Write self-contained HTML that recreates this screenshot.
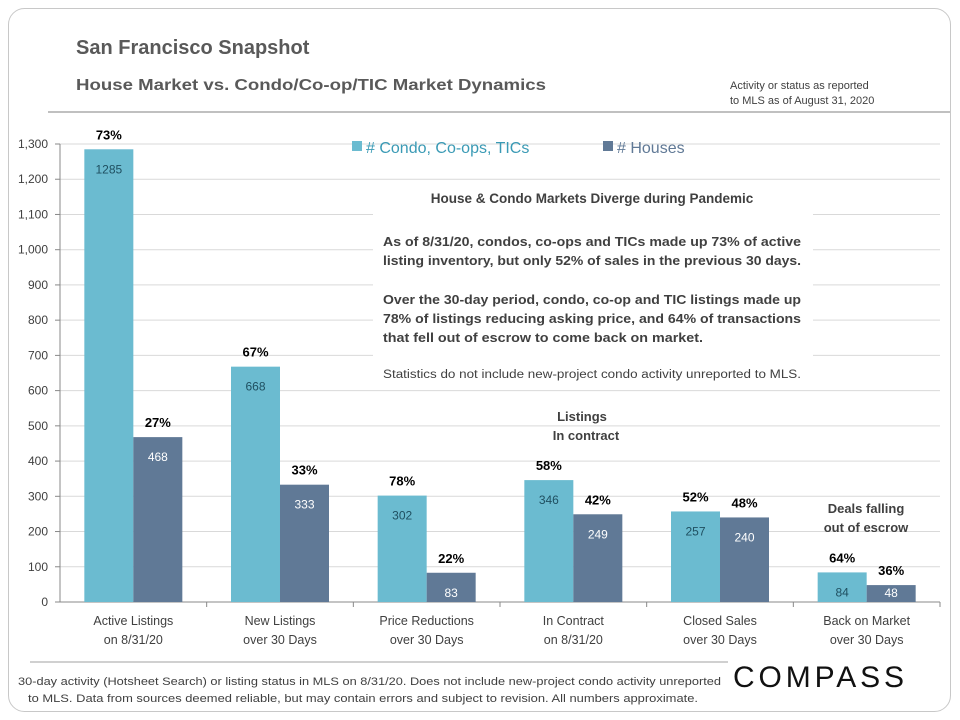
<!DOCTYPE html>
<html><head><meta charset="utf-8">
<style>
body{margin:0;width:960px;height:720px;background:#fff;font-family:"Liberation Sans",sans-serif;overflow:hidden}
svg{position:absolute;left:0;top:0}
</style></head>
<body>
<svg width="960" height="720" xmlns="http://www.w3.org/2000/svg" id="chart">
<rect x="8.5" y="8.5" width="942" height="703" rx="16" fill="#fff" stroke="#c8c8c8"/>
<text x="76" y="54" font-size="20" font-weight="bold" fill="#595959">San Francisco Snapshot</text>
<text x="76" y="90" font-size="16" font-weight="bold" fill="#595959" textLength="470" lengthAdjust="spacingAndGlyphs">House Market vs. Condo/Co-op/TIC  Market Dynamics</text>
<text x="730" y="89" font-size="11" fill="#404040">Activity or status as reported</text>
<text x="730" y="104" font-size="11" fill="#404040">to MLS as of August 31, 2020</text>
<line x1="48" y1="112" x2="950" y2="112" stroke="#808080"/>
<g id="grid"></g>
<g id="bars"></g>
<g id="labels"></g>
<rect x="373" y="180" width="440" height="208" fill="#fff"/>
<text x="592" y="203" font-size="13.5" font-weight="bold" fill="#404040" text-anchor="middle">House &amp; Condo Markets Diverge during Pandemic</text>
<g font-size="13" font-weight="bold" fill="#404040">
<text x="383" y="246" textLength="418" lengthAdjust="spacingAndGlyphs">As of 8/31/20, condos, co-ops and TICs made up 73% of active</text>
<text x="383" y="265" textLength="418" lengthAdjust="spacingAndGlyphs">listing inventory, but only 52% of sales in the previous 30 days.</text>
<text x="383" y="304" textLength="418" lengthAdjust="spacingAndGlyphs">Over the 30-day period, condo, co-op and TIC listings made up</text>
<text x="383" y="323" textLength="418" lengthAdjust="spacingAndGlyphs">78% of listings reducing asking price, and 64% of transactions</text>
<text x="383" y="342" textLength="320" lengthAdjust="spacingAndGlyphs">that fell out of escrow to come back on market.</text>
</g>
<text x="383" y="378" font-size="11.5" fill="#404040" textLength="418" lengthAdjust="spacingAndGlyphs">Statistics do not include new-project condo activity unreported to MLS.</text>
<rect x="352" y="141" width="10" height="10" fill="#6bbbd0"/>
<text x="366" y="153" font-size="16" fill="#3a9ab5"># Condo, Co-ops, TICs</text>
<rect x="603" y="141" width="10" height="10" fill="#607996"/>
<text x="617" y="153" font-size="16" fill="#607996"># Houses</text>
<g font-size="13" font-weight="bold" fill="#404040" text-anchor="middle">
<text x="582" y="421">Listings</text>
<text x="586" y="440">In contract</text>
<text x="866" y="513">Deals falling</text>
<text x="866" y="532">out of escrow</text>
</g>
<line x1="30" y1="662" x2="728" y2="662" stroke="#a0a0a0"/>
<text x="18" y="685" font-size="11" fill="#404040" textLength="703" lengthAdjust="spacingAndGlyphs">30-day activity (Hotsheet Search) or listing status in MLS on 8/31/20. Does not include new-project condo activity unreported</text>
<text x="28" y="702" font-size="11" fill="#404040" textLength="670" lengthAdjust="spacingAndGlyphs">to MLS. Data from sources deemed reliable, but may contain errors and subject to revision. All numbers approximate.</text>
<text x="733" y="687" font-size="30" fill="#111" letter-spacing="4" textLength="175">COMPASS</text>
</svg>
<script>
const categories=[["Active Listings","on 8/31/20"],["New Listings","over 30 Days"],["Price Reductions","over 30 Days"],["In Contract","on 8/31/20"],["Closed Sales","over 30 Days"],["Back on Market","over 30 Days"]];
const condoValues=[1285,668,302,346,257,84];
const houseValues=[468,333,83,249,240,48];
const condoPct=["73%","67%","78%","58%","52%","64%"];
const housePct=["27%","33%","22%","42%","48%","36%"];
const yTicks=[0,100,200,300,400,500,600,700,800,900,1000,1100,1200,1300];
const NS="http://www.w3.org/2000/svg";
const x0=60,x1=940,yBase=602,yTop=144,yMax=1300;
const y=v=>yBase-(v/yMax)*(yBase-yTop);
const band=(x1-x0)/categories.length;
const cx=i=>x0+band*(i+0.5);
const bw=49;
function mk(tag,attrs,parent,text){const e=document.createElementNS(NS,tag);for(const k in attrs)e.setAttribute(k,attrs[k]);if(text!==undefined)e.textContent=text;parent.appendChild(e);return e;}
const grid=document.getElementById('grid'),bars=document.getElementById('bars'),labels=document.getElementById('labels');
yTicks.forEach(t=>{
 if(t>0){const g=mk('line',{x1:x0,x2:x1,y1:y(t),y2:y(t),stroke:'#d9d9d9'},grid);
 
 }
 const tk=mk('line',{x1:x0-5,x2:x0,y1:y(t),y2:y(t),stroke:'#888'},grid);
 
 
 const l=mk('text',{x:x0-12,y:y(t)+4,'font-size':12,fill:'#404040','text-anchor':'end'},grid,t.toLocaleString('en-US'));
 
 
});
const ax=mk('line',{x1:x0,x2:x0,y1:yTop,y2:yBase,stroke:'#888'},grid);


const xa=mk('line',{x1:x0,x2:x1,y1:yBase,y2:yBase,stroke:'#888'},grid);


categories.forEach((c,i)=>{
 const bx=x0+band*(i+1);
 const tk=mk('line',{x1:bx,x2:bx,y1:yBase,y2:yBase+5,stroke:'#888'},grid);
 
 
 c.forEach((s,j)=>{const t=mk('text',{x:cx(i),y:625+j*19,'font-size':12.5,fill:'#404040','text-anchor':'middle'},grid,s);
 
 });
 [[condoValues,condoPct,'#6bbbd0','#1f4f60',-bw,'condo'],[houseValues,housePct,'#607996','#fff',0,'house']].forEach(([vals,pct,col,tc,off,nm])=>{
  const v=vals[i],bxx=cx(i)+off;
  const r=mk('rect',{x:bxx,y:y(v),width:bw,height:yBase-y(v),fill:col},bars);
  
  
  const vt=mk('text',{x:bxx+bw/2,y:Math.min(y(v)+24,yBase-5),'font-size':12,fill:tc,'text-anchor':'middle'},labels,String(v));
  
  
  const pt=mk('text',{x:bxx+bw/2,y:y(v)-10,'font-size':13,'font-weight':'bold',fill:'#000','text-anchor':'middle'},labels,pct[i]);
  
  
 });
});
</script>
</body></html>
